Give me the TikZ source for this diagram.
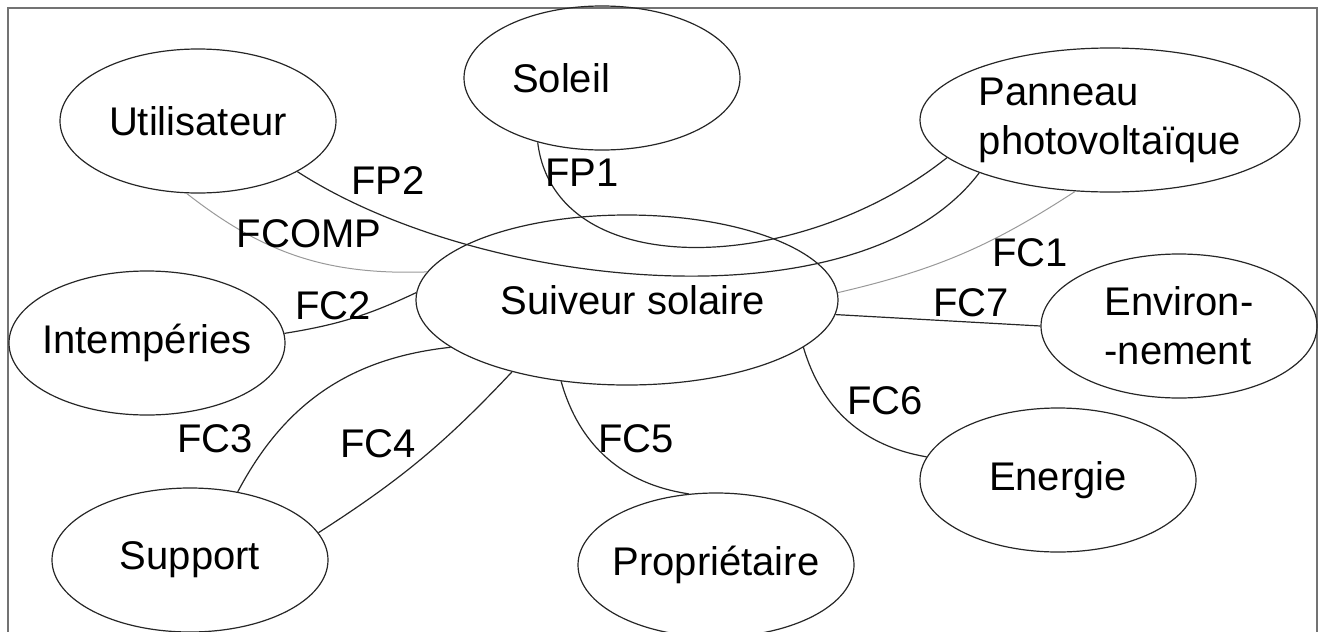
\documentclass[tikz,border=0pt]{standalone}
\usepackage{fontspec}
\setmainfont{Liberation Sans}
\usetikzlibrary{shapes}
\tikzset{
    actor/.style={
        ellipse,
        draw=black!85,
        line width=0.6pt,
        minimum width=138pt,
        minimum height=72pt,
        inner sep=0pt,
    },
    system/.style={
        actor,
        minimum width=211pt,
        minimum height=85pt,
    },
    fn/.style={
        draw=black!85,
        line width=0.6pt,
    },
    fn-light/.style={
        draw=black!40,
        line width=0.5pt,
    },
    fn-label/.style={
        inner sep=0pt,
    },
    frame/.style={
        draw=black!55,
        line width=0.8pt,
    },
    every node/.style={
        font=\fontsize{20}{24.5}\selectfont,
    },
}

\begin{document}
\begin{tikzpicture}[x=0.5pt,y=-0.5pt]
    \useasboundingbox (0,0) rectangle (1323,632);
    \clip (0,0) rectangle (1323,632);
    \draw[frame] (8,8) rectangle (1317,660);
    % acteurs
    \node[system, label={[xshift=3pt]center:Suiveur solaire}] (suiveur) at (627,300) {};
    \node[actor, label={[xshift=-20.5pt]center:Soleil}] (soleil) at (602,78) {};
    \node[actor, label=center:Utilisateur] (util) at (198,121) {};
    \node[actor, minimum width=190pt, label={[align=left]center:Panneau\\photovoltaïque}] (panneau) at (1110,120) {};
    \node[actor, label=center:Intempéries] (intemp) at (147,343) {};
    \node[actor, label={[align=left]center:Environ-\\-nement}] (environ) at (1179,326) {};
    \node[actor, label=center:Energie] (energie) at (1058,480) {};
    \node[actor, label=center:Support] (support) at (190,560) {};
    \node[actor, label=center:Propriétaire] (proprio) at (716,565) {};
    % fonctions
    \draw[fn] (util.-27) .. controls (480,290) and (860,330) .. (panneau.202);
    \draw[fn] (soleil.225) .. controls (555,285) and (800,275) .. (panneau.193);
    \draw[fn-light] (util.261) to[bend right=20] (suiveur.172);
    \draw[fn-light] (panneau.244) to[bend left=10] (suiveur.2);
    \draw[fn] (intemp.4) to[bend right=8] (suiveur.178);
    \draw[fn] (suiveur.195) to[bend right=28] (support.55);
    \draw[fn] (suiveur.212) to[bend left=7] (support.12);
    \draw[fn] (suiveur.231) to[bend right=33] (proprio.111);
    \draw[fn] (suiveur.345) to[bend right=32] (energie.170);
    \draw[fn] (suiveur.-4) -- (environ.180);
    % etiquettes
    \node[fn-label] (fp1) at (582,173) {FP1};
    \node[fn-label] (fp2) at (388,181) {FP2};
    \node[fn-label] (fcomp) at (309,234) {FCOMP};
    \node[fn-label] (fc1) at (1030,253) {FC1};
    \node[fn-label] (fc2) at (333,306) {FC2};
    \node[fn-label] (fc3) at (215,439) {FC3};
    \node[fn-label] (fc4) at (378,444) {FC4};
    \node[fn-label] (fc5) at (636,439) {FC5};
    \node[fn-label] (fc6) at (885,401) {FC6};
    \node[fn-label] (fc7) at (971,303) {FC7};
\end{tikzpicture}
\end{document}
